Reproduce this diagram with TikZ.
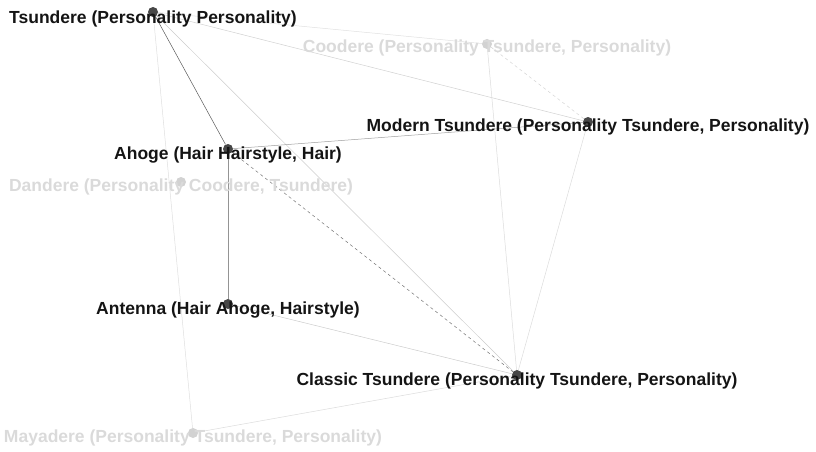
\documentclass[tikz,border=0pt]{standalone}
\usepackage{fontspec}
\setmainfont{Liberation Sans}
\usepackage{xcolor}
\usetikzlibrary{positioning,backgrounds}
\definecolor{dotdark}{HTML}{474747}
\definecolor{dotfade}{HTML}{D2D2D2}
\definecolor{txtfade}{HTML}{DADADA}
\tikzset{
    vert/.style={circle, fill=dotdark, minimum size=10pt, inner sep=0},
    vertfade/.style={vert, fill=dotfade},
    lbl/.style={font=\fontsize{17.5}{19}\selectfont\bfseries, text=black!92, inner sep=0},
    lblfade/.style={lbl, text=txtfade},
    link/.style={line width=0.5pt},
}

\begin{document}
\begin{tikzpicture}[x=1pt, y=-1pt]
    \useasboundingbox (0,0) rectangle (816,452);
    \node[vert] (tsun) at (153,12) {};
    \node[vertfade] (coo) at (487,44) {};
    \node[vert] (modern) at (588,122) {};
    \node[vert] (ahoge) at (228,149) {};
    \node[vertfade] (dan) at (181,182) {};
    \node[vert] (antenna) at (228,304) {};
    \node[vert] (classic) at (517,375) {};
    \node[vertfade] (maya) at (193,433) {};

    \begin{scope}[on background layer]
    \draw[link, black!12] (tsun) -- (coo);
    \draw[link, black!18] (tsun) -- (modern);
    \draw[link, black!20] (tsun) -- (classic);
    \draw[link, black!13] (tsun) -- (maya);
    \draw[link, black!65] (tsun) -- (ahoge);
    \draw[link, black!17, dashed] (coo) -- (modern);
    \draw[link, black!14] (coo) -- (classic);
    \draw[link, black!14] (modern) -- (classic);
    \draw[link, black!38] (ahoge) -- (modern);
    \draw[link, black!42] (ahoge) -- (antenna);
    \draw[link, black!55, dashed] (ahoge) -- (classic);
    \draw[link, black!20] (antenna) -- (classic);
    \draw[link, black!14] (maya) -- (classic);
    \end{scope}

    \node[lbl] (tsun-l) at ([yshift=-6.5pt]tsun) {Tsundere (Personality Personality)};
    \node[lblfade] (coo-l) at ([yshift=-4pt]coo) {Coodere (Personality Tsundere, Personality)};
    \node[lbl] (modern-l) at ([yshift=-5pt]modern) {Modern Tsundere (Personality Tsundere, Personality)};
    \node[lbl] (ahoge-l) at ([yshift=-6pt]ahoge) {Ahoge (Hair Hairstyle, Hair)};
    \node[lblfade] (dan-l) at ([yshift=-5pt]dan) {Dandere (Personality Coodere, Tsundere)};
    \node[lbl] (antenna-l) at ([yshift=-6pt]antenna) {Antenna (Hair Ahoge, Hairstyle)};
    \node[lbl] (classic-l) at ([yshift=-6pt]classic) {Classic Tsundere (Personality Tsundere, Personality)};
    \node[lblfade] (maya-l) at ([yshift=-5pt]maya) {Mayadere (Personality Tsundere, Personality)};
\end{tikzpicture}
\end{document}
